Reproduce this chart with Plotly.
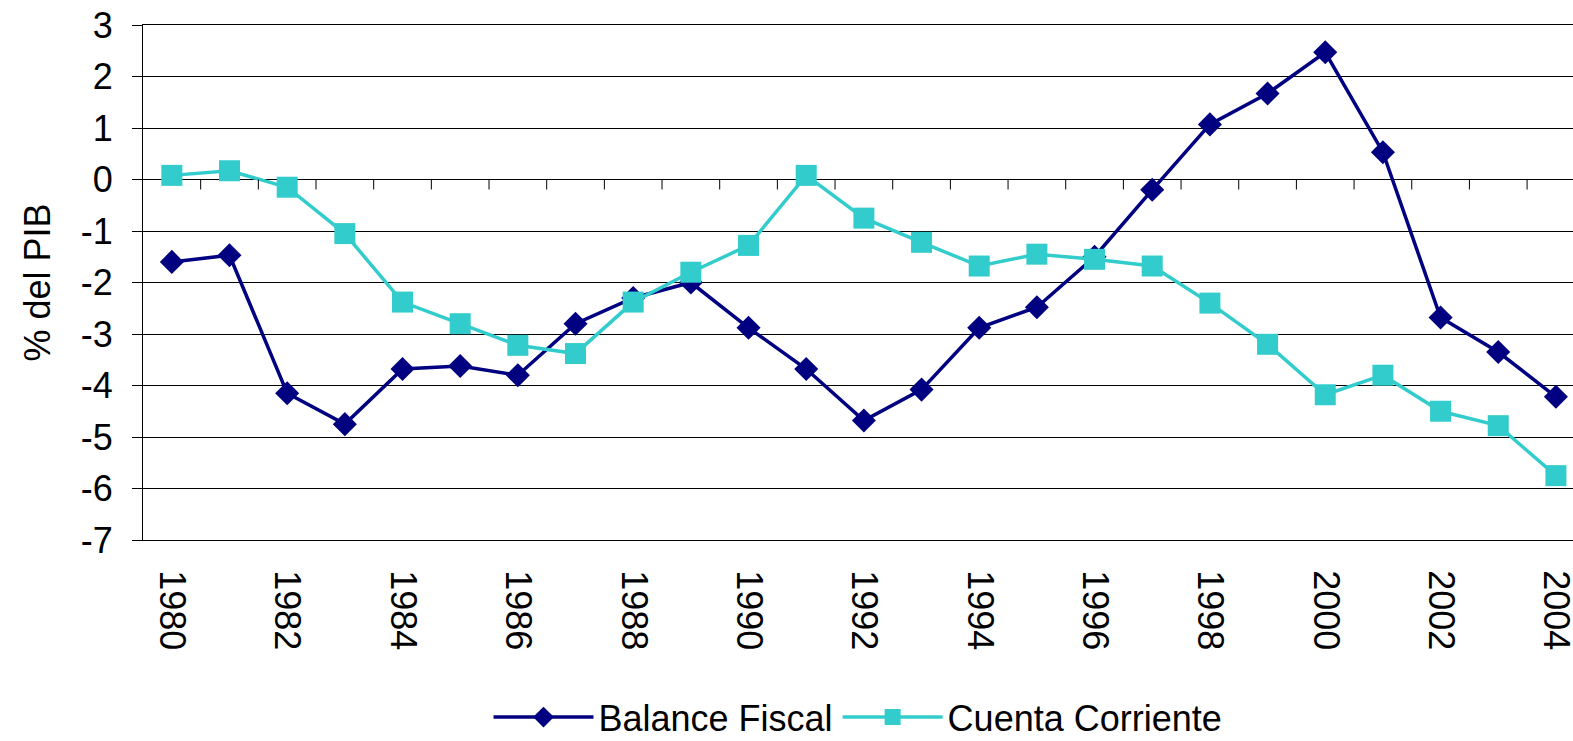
import plotly.graph_objects as go

years = list(range(1980, 2005))
balance_fiscal = [-1.60, -1.47, -4.15, -4.75, -3.68, -3.62, -3.80, -2.80, -2.30, -2.00,
                  -2.88, -3.68, -4.68, -4.08, -2.88, -2.48, -1.50, -0.20, 1.07, 1.67,
                  2.47, 0.53, -2.68, -3.35, -4.22]
cuenta_corriente = [0.08, 0.17, -0.15, -1.05, -2.38, -2.80, -3.22, -3.38, -2.38, -1.80,
                    -1.28, 0.08, -0.75, -1.22, -1.68, -1.45, -1.55, -1.68, -2.40, -3.20,
                    -4.18, -3.80, -4.50, -4.78, -5.75]
tick_years = years[::2]
tick_labels = [str(y) for y in tick_years]
y_ticks = list(range(-7, 4))
y_labels = [str(v) for v in y_ticks]  # plain hyphen minus as in the reference

NAVY = "#000080"
TURQ = "#33CCCC"
FONT = "Arial, Liberation Sans, sans-serif"

fig = go.Figure()
fig.add_trace(go.Scatter(
    x=years, y=balance_fiscal, name="Balance Fiscal", mode="lines+markers",
    line=dict(color=NAVY, width=3.5),
    marker=dict(symbol="diamond", size=18.5, color=NAVY),
    cliponaxis=False,
))
fig.add_trace(go.Scatter(
    x=years, y=cuenta_corriente, name="Cuenta Corriente", mode="lines+markers",
    line=dict(color=TURQ, width=3.5),
    marker=dict(symbol="square", size=21, color=TURQ),
    cliponaxis=False,
))

# category-axis tick marks (between categories) hanging below the y=0 line
for yr in years[:-1]:
    fig.add_shape(type="line", xref="x", yref="y", x0=yr + 0.5, x1=yr + 0.5,
                  ysizemode="pixel", yanchor=0, y0=0, y1=-10,
                  line=dict(color="black", width=1), layer="above")

x_lo = years[0] - 0.5
x_hi = x_lo + 1430 / 57.67

fig.update_layout(
    width=1573, height=741,
    margin=dict(l=143, r=0, t=25, b=201, autoexpand=False),
    paper_bgcolor="white", plot_bgcolor="white",
    font=dict(family=FONT, size=36, color="black"),
    showlegend=True,
    legend=dict(orientation="h", x=0.5, xanchor="center", y=-0.344, yanchor="middle",
                font=dict(size=36), itemwidth=100, tracegroupgap=0),
    xaxis=dict(
        range=[x_lo, x_hi], tickmode="array", tickvals=tick_years, ticktext=tick_labels,
        tickangle=90, showgrid=False, zeroline=False, ticks="", showline=True,
        linecolor="black", linewidth=1, mirror=True, ticklabelstandoff=22,
        tickfont=dict(size=36), automargin=False, ticklabeloverflow="allow",
    ),
    yaxis=dict(
        range=[-7, 3], tickmode="array", tickvals=y_ticks, ticktext=y_labels,
        showgrid=True, gridcolor="black", gridwidth=1, zeroline=False, showline=True,
        linecolor="black", linewidth=1, ticks="outside", ticklen=10, tickcolor="black",
        ticklabelstandoff=12, tickfont=dict(size=36), automargin=False,
        title=dict(text="% del PIB", font=dict(size=36), standoff=19),
    ),
)

fig.write_html(
    "out.html",
    config={"displayModeBar": False},
    post_script="document.body.style.margin='0';document.body.style.overflow='hidden';",
)
